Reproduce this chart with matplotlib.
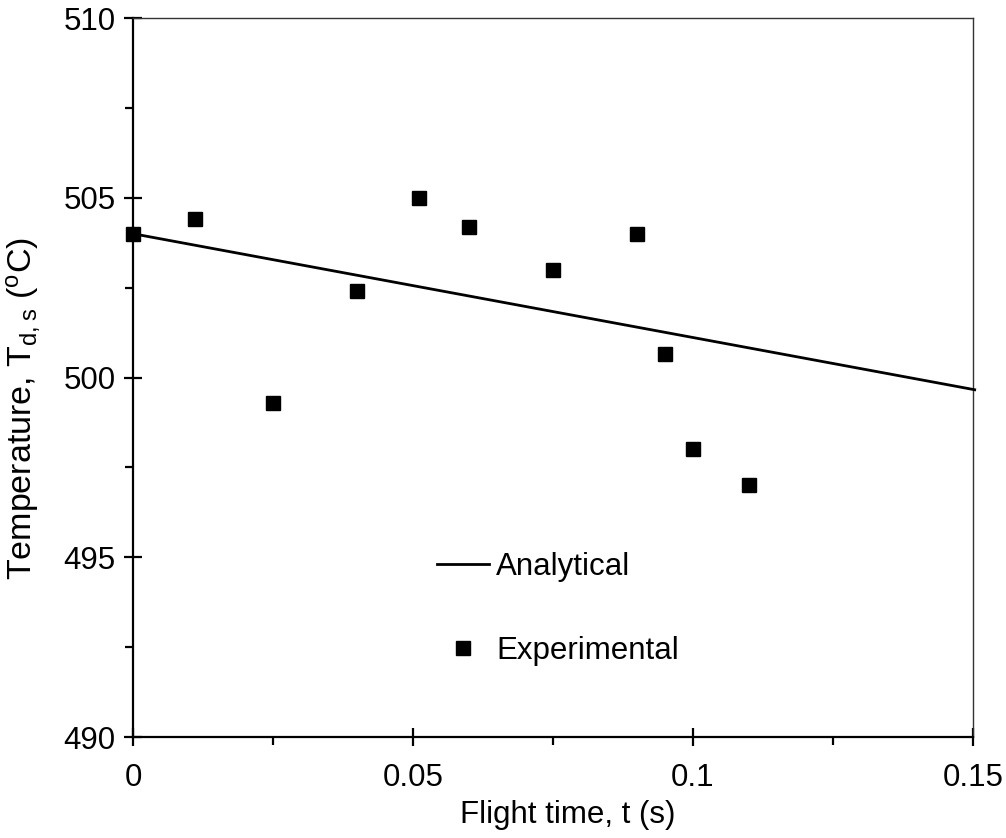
import matplotlib
matplotlib.use("Agg")
import matplotlib.pyplot as plt
from matplotlib.ticker import MultipleLocator
from matplotlib.lines import Line2D

plt.rcParams['font.family'] = ['Liberation Sans', 'DejaVu Sans']
plt.rcParams['mathtext.default'] = 'regular'

# Measured droplet surface temperature vs flight time
t_exp = [0.0, 0.011, 0.025, 0.040, 0.051, 0.060, 0.075, 0.090, 0.095, 0.100, 0.110]
T_exp = [504.0, 504.4, 499.3, 502.4, 505.0, 504.2, 503.0, 504.0, 500.65, 498.0, 497.0]

# Analytical prediction (linear over the plotted range)
t_ana = [0.0, 0.1503]
T_ana = [504.0, 499.66]

x_ticks = [0, 0.05, 0.1, 0.15]
x_ticklabels = ['0', '0.05', '0.1', '0.15']
y_ticks = [490, 495, 500, 505, 510]

FS = 22.5

fig = plt.figure(figsize=(10.06, 8.38), dpi=100)
ax = fig.add_axes([0.1322, 0.1205, 0.835, 0.858])

ax.plot(t_ana, T_ana, color='black', lw=2.0, clip_on=False, zorder=3)
ax.plot(t_exp, T_exp, linestyle='none', marker='s', markersize=10.5,
        color='black', clip_on=False, zorder=4)

ax.set_xlim(0, 0.15)
ax.set_ylim(490, 510)
ax.set_xticks(x_ticks)
ax.set_xticklabels(x_ticklabels)
ax.set_yticks(y_ticks)
ax.xaxis.set_minor_locator(MultipleLocator(0.025))
ax.yaxis.set_minor_locator(MultipleLocator(2.5))

for s in ['left', 'bottom']:
    ax.spines[s].set_linewidth(1.6)
for s in ['top', 'right']:
    ax.spines[s].set_linewidth(1.0)
    ax.spines[s].set_color('#333333')

ax.tick_params(which='major', direction='inout', length=13, width=1.6,
               labelsize=FS, pad=6)
ax.tick_params(which='minor', direction='out', length=6, width=1.6)
ax.tick_params(axis='x', which='major', pad=12)

ax.set_xlabel('Flight time, t (s)', fontsize=FS, labelpad=8)
ax.xaxis.set_label_coords(0.518, -0.088)
ax.set_ylabel('Temperature, T$_{d,s}$ ($^{o}$C)', fontsize=24.5)
ax.yaxis.set_label_coords(-0.108, 0.457)

handles = [Line2D([], [], color='black', lw=2.0),
           Line2D([], [], linestyle='none', marker='s', markersize=10.5, color='black')]
ax.legend(handles, ['Analytical', 'Experimental'], loc='upper left',
          bbox_to_anchor=(0.3615, 0.258), frameon=False, fontsize=FS,
          handlelength=1.66, handletextpad=0.25, labelspacing=1.73,
          borderpad=0, borderaxespad=0)

fig.savefig('out.png', dpi=100)
